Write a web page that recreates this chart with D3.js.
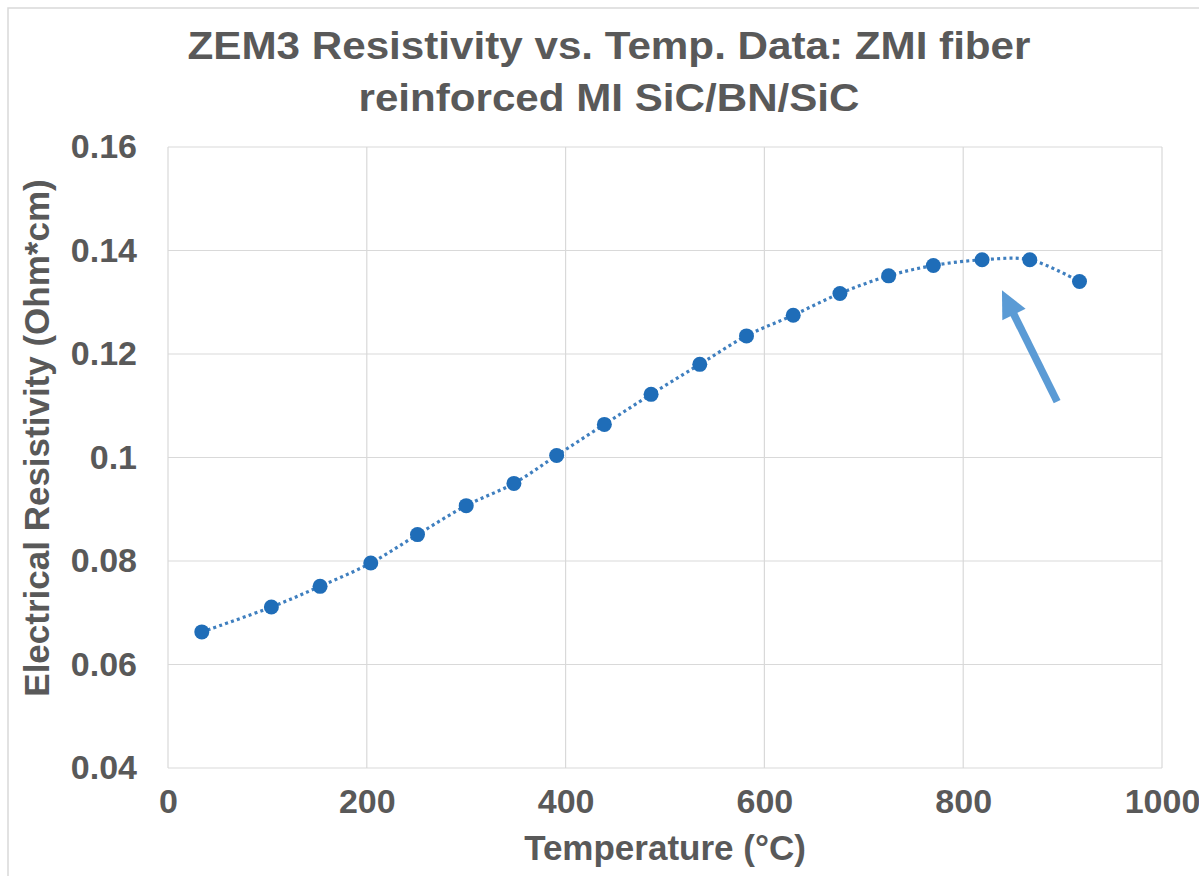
<!DOCTYPE html>
<html>
<head>
<meta charset="utf-8">
<script src="https://cdn.jsdelivr.net/npm/d3@7"></script>
<style>
  html, body { margin: 0; padding: 0; background: #fff; }
  svg { display: block; }
  text { font-family: "Liberation Sans", Arial, sans-serif; font-weight: bold; fill: #595959; }
</style>
</head>
<body>
<svg id="chart" width="1199" height="876"></svg>
<script>
// ---- Data ----
const temperatures = [34, 104, 153, 204, 251, 300, 348, 391, 439, 486, 535, 582, 629, 676, 725, 770, 819, 867, 917];
const resistivity = [0.0663, 0.0711, 0.0751, 0.0796, 0.0851, 0.0907, 0.0950, 0.1004, 0.1064, 0.1122, 0.1180, 0.1235, 0.1275, 0.1317, 0.1351, 0.1371, 0.1382, 0.1382, 0.1340];
const xTicks = [0, 200, 400, 600, 800, 1000];
const yTicks = [0.04, 0.06, 0.08, 0.10, 0.12, 0.14, 0.16];
const yTickLabels = ["0.04", "0.06", "0.08", "0.1", "0.12", "0.14", "0.16"];
const titleLines = ["ZEM3 Resistivity vs. Temp. Data: ZMI fiber", "reinforced MI SiC/BN/SiC"];
const xTitle = "Temperature (°C)";
const yTitle = "Electrical Resistivity (Ohm*cm)";
const arrowTip = [839, 0.1323];
const arrowTail = [894.5, 0.1108];

// ---- Layout ----
const svg = d3.select("#chart");
const plot = { left: 168, right: 1162, top: 147, bottom: 768 };

const x = d3.scaleLinear().domain([0, 1000]).range([plot.left, plot.right]);
const y = d3.scaleLinear().domain([0.04, 0.16]).range([plot.bottom, plot.top]);

// outer chart border
svg.append("rect")
  .attr("x", 8).attr("y", 8)
  .attr("width", 1250).attr("height", 950)
  .attr("fill", "none").attr("stroke", "#d9d9d9").attr("stroke-width", 1.5);

// gridlines
svg.append("g").selectAll("line").data(yTicks).join("line")
  .attr("x1", plot.left).attr("x2", plot.right)
  .attr("y1", d => y(d)).attr("y2", d => y(d))
  .attr("stroke", "#d9d9d9").attr("stroke-width", 1.2);
svg.append("g").selectAll("line").data(xTicks).join("line")
  .attr("y1", plot.top).attr("y2", plot.bottom)
  .attr("x1", d => x(d)).attr("x2", d => x(d))
  .attr("stroke", "#d9d9d9").attr("stroke-width", 1.2);

// axes (labels only)
const xAxis = d3.axisBottom(x).tickValues(xTicks).tickSize(0).tickPadding(0).tickFormat(d3.format("d"));
const gx = svg.append("g").attr("transform", `translate(0,${plot.bottom + 21})`).call(xAxis);
gx.select(".domain").remove();
gx.selectAll("text").attr("font-size", 34).attr("fill", "#595959")
  .attr("font-family", "'Liberation Sans', Arial, sans-serif").attr("font-weight", "bold")
  .attr("dy", "0.71em");

const yAxis = d3.axisLeft(y).tickValues(yTicks).tickSize(0).tickPadding(31)
  .tickFormat((d, i) => yTickLabels[i]);
const gy = svg.append("g").attr("transform", `translate(${plot.left},0)`).call(yAxis);
gy.select(".domain").remove();
gy.selectAll("text").attr("font-size", 34).attr("fill", "#595959")
  .attr("font-family", "'Liberation Sans', Arial, sans-serif").attr("font-weight", "bold");

// series line
const pts = temperatures.map((t, i) => [t, resistivity[i]]);
const line = d3.line().x(d => x(d[0])).y(d => y(d[1])).curve(d3.curveCatmullRom.alpha(0.5));
svg.append("path").datum(pts)
  .attr("d", line)
  .attr("fill", "none")
  .attr("stroke", "#3f7fbf")
  .attr("stroke-width", 3.2)
  .attr("stroke-dasharray", "3 3.2");

// markers
svg.append("g").selectAll("circle").data(pts).join("circle")
  .attr("cx", d => x(d[0])).attr("cy", d => y(d[1]))
  .attr("r", 7.5)
  .attr("fill", "#1f6db8");

// arrow annotation
(function () {
  const tx = x(arrowTip[0]), ty = y(arrowTip[1]);
  const sx = x(arrowTail[0]), sy = y(arrowTail[1]);
  const dx = tx - sx, dy = ty - sy, len = Math.hypot(dx, dy);
  const ux = dx / len, uy = dy / len, px = -uy, py = ux;
  const headLen = 27, headHalf = 13;
  const bx = tx - ux * headLen, by = ty - uy * headLen;
  svg.append("line")
    .attr("x1", sx).attr("y1", sy).attr("x2", bx + ux * 2).attr("y2", by + uy * 2)
    .attr("stroke", "#5b9bd5").attr("stroke-width", 7.5);
  svg.append("path")
    .attr("d", `M${tx},${ty}L${bx + px * headHalf},${by + py * headHalf}L${bx - px * headHalf},${by - py * headHalf}Z`)
    .attr("fill", "#5b9bd5");
})();

// titles
const titleLengths = [843, 501];
const titleBaselines = [59, 111];
svg.append("g").selectAll("text").data(titleLines).join("text")
  .attr("x", 609).attr("y", (d, i) => titleBaselines[i])
  .attr("text-anchor", "middle")
  .attr("font-size", 38)
  .attr("textLength", (d, i) => titleLengths[i])
  .attr("lengthAdjust", "spacingAndGlyphs")
  .attr("fill", "#505050")
  .text(d => d);

svg.append("text")
  .attr("x", (plot.left + plot.right) / 2).attr("y", 860)
  .attr("text-anchor", "middle").attr("font-size", 35)
  .text(xTitle);

svg.append("text")
  .attr("transform", `translate(49,438) rotate(-90)`)
  .attr("text-anchor", "middle").attr("font-size", 35)
  .text(yTitle);
</script>
</body>
</html>
